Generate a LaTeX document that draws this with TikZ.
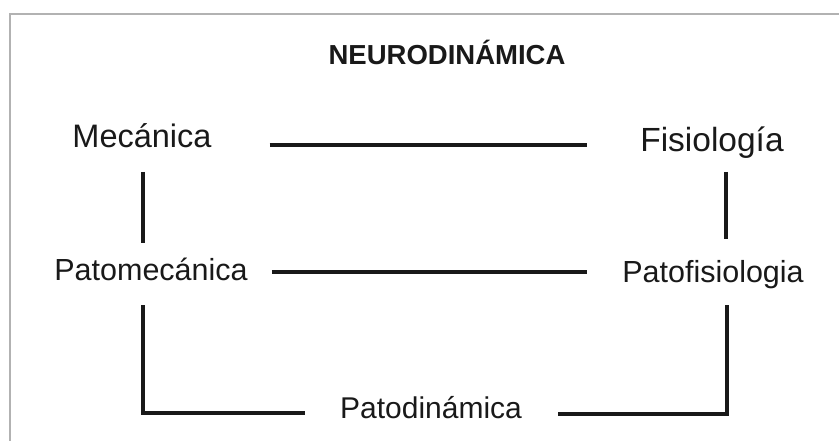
\documentclass[tikz,border=0pt]{standalone}
\usepackage{fontspec}
\setmainfont{Liberation Sans}
\usepackage{tikz}
\usetikzlibrary{positioning,calc}

\begin{document}
\begin{tikzpicture}[x=1pt,y=-1pt,
    label/.style={inner sep=0pt,anchor=base,text=black!90},
    link/.style={line width=3.2pt,black!90},
    frame/.style={line width=1.6pt,black!30}
]
\useasboundingbox (0,0) rectangle (839,441);
\draw[frame] (10,441) -- (10,14) -- (839,14);

\node[label,font=\fontsize{27.5}{30}\selectfont\bfseries] (title)     at (447,65)  {NEURODINÁMICA};
\node[label,font=\fontsize{32.5}{36}\selectfont]          (mech)      at (142,148) {Mecánica};
\node[label,font=\fontsize{33.5}{36}\selectfont]          (fisio)     at (712,152) {Fisiología};
\node[label,font=\fontsize{30.5}{34}\selectfont]          (patomech)  at (151,280) {Patomecánica};
\node[label,font=\fontsize{30.5}{34}\selectfont]          (patofisio) at (713,283) {Patofisiologia};
\node[label,font=\fontsize{30}{34}\selectfont]            (patodin)   at (431,418) {Patodinámica};

\coordinate (mechR) at ([yshift=3pt]mech.base east);
\coordinate (pmR)   at ([yshift=8pt]patomech.base east);
\coordinate (mechB) at ([shift={(1pt,-24pt)}]mech.base);
\coordinate (fisB)  at ([shift={(14pt,-20pt)}]fisio.base);
\coordinate (pmB)   at ([shift={(-8pt,-25pt)}]patomech.base);
\coordinate (pfB)   at ([shift={(14pt,-22pt)}]patofisio.base);
\coordinate (dinL)  at ([yshift=5pt]patodin.base west);
\coordinate (dinR)  at ([yshift=4pt]patodin.base east);

\draw[link,shorten <=58pt,shorten >=53pt] (mechR) -- (mechR -| fisio.base west);
\draw[link,shorten <=24pt,shorten >=35pt] (pmR) -- (pmR -| patofisio.base west);
\draw[link,shorten >=37pt] (mechB) -- (mechB |- patomech.base);
\draw[link,shorten >=44pt] (fisB) -- (fisB |- patofisio.base);
\draw[link,shorten >=35pt] (pmB) |- (dinL);
\draw[link,shorten >=36pt] (pfB) |- (dinR);
\end{tikzpicture}
\end{document}
